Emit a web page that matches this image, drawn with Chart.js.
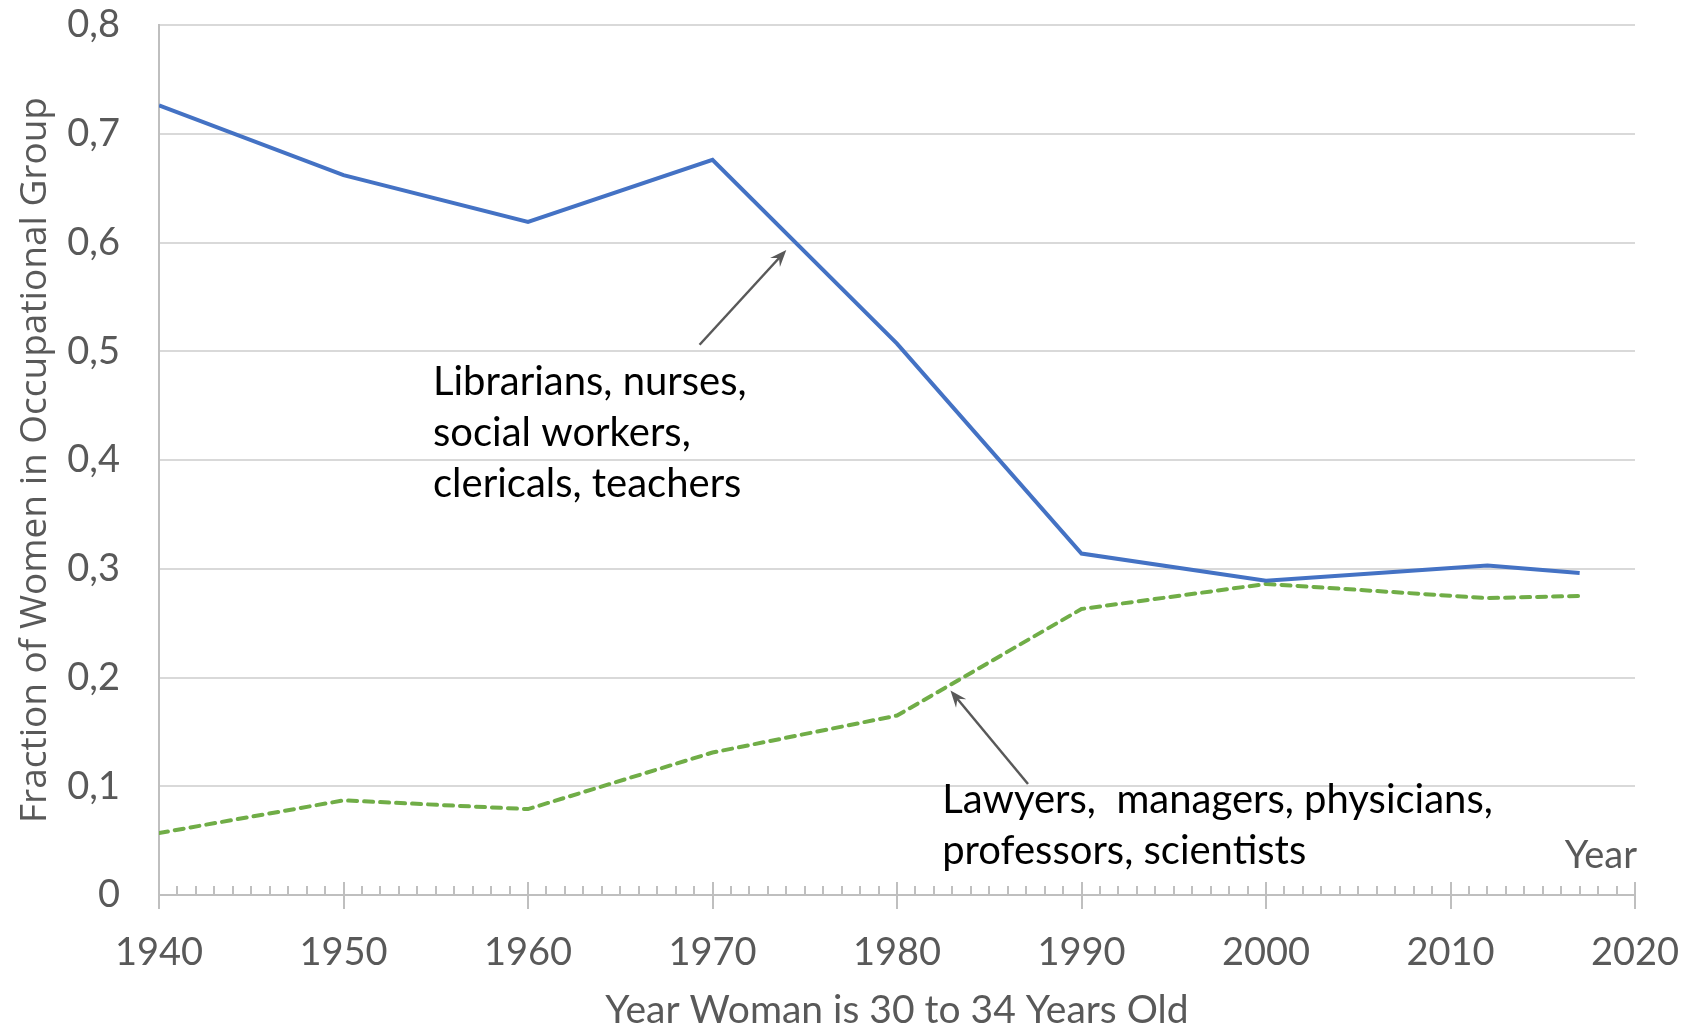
<!DOCTYPE html>
<html>
<head>
    <title>Women in Occupational Groups</title>
    <style>
        body {
            margin: 0;
            padding: 0;
            background-color: #fff;
        }
        #chart {
            display: block;
        }
    </style>
</head>
<body>
    <canvas id="chart" width="1684" height="1031"></canvas>

    <script src="https://cdn.jsdelivr.net/npm/chart.js"></script>
    <script>
        // data
        const years = [1940, 1950, 1960, 1970, 1980, 1990, 2000, 2012, 2017];
        const traditionalJobs = [0.726, 0.662, 0.619, 0.676, 0.507, 0.314, 0.289, 0.303, 0.296];
        const professionalJobs = [0.057, 0.087, 0.079, 0.131, 0.165, 0.263, 0.286, 0.273, 0.275];
        const yTicks = [0, 0.1, 0.2, 0.3, 0.4, 0.5, 0.6, 0.7, 0.8];

        const labelTraditional = ['Librarians, nurses,', 'social workers,', 'clericals, teachers'];
        const labelProfessional = ['Lawyers,  managers, physicians,', 'professors, scientists'];

        const gridGray = '#d9d9d9';
        const axisGray = '#bfbfbf';
        const textGray = '#595959';

        function toPoints(xs, ys) {
            return xs.map((x, i) => ({ x: x, y: ys[i] }));
        }

        // tick marks on the x axis: majors cross the line, minors sit on top
        const axisTicks = {
            id: 'axisTicks',
            afterDraw(chart) {
                const ctx = chart.ctx;
                const x = chart.scales.x;
                const y0 = chart.scales.y.getPixelForValue(0);
                ctx.save();
                ctx.strokeStyle = axisGray;
                ctx.lineWidth = 2;
                for (let yr = 1940; yr <= 2020; yr++) {
                    const px = Math.round(x.getPixelForValue(yr));
                    ctx.beginPath();
                    if (yr % 10 === 0) {
                        ctx.moveTo(px, y0 - 13);
                        ctx.lineTo(px, y0 + 14);
                    } else {
                        ctx.moveTo(px, y0 - 9);
                        ctx.lineTo(px, y0);
                    }
                    ctx.stroke();
                }
                ctx.restore();
            }
        };

        function arrow(ctx, x1, y1, x2, y2) {
            const ang = Math.atan2(y2 - y1, x2 - x1);
            const head = 18;
            ctx.beginPath();
            ctx.moveTo(x1, y1);
            ctx.lineTo(x2 - Math.cos(ang) * 10, y2 - Math.sin(ang) * 10);
            ctx.stroke();
            ctx.beginPath();
            ctx.moveTo(x2, y2);
            ctx.lineTo(x2 - head * Math.cos(ang - 0.38), y2 - head * Math.sin(ang - 0.38));
            ctx.lineTo(x2 - head * 0.6 * Math.cos(ang), y2 - head * 0.6 * Math.sin(ang));
            ctx.lineTo(x2 - head * Math.cos(ang + 0.38), y2 - head * Math.sin(ang + 0.38));
            ctx.closePath();
            ctx.fill();
        }

        // callout texts and arrows, placed in data units
        const callouts = {
            id: 'callouts',
            afterDatasetsDraw(chart) {
                const ctx = chart.ctx;
                const sx = chart.scales.x;
                const sy = chart.scales.y;
                const X = v => sx.getPixelForValue(v);
                const Y = v => sy.getPixelForValue(v);

                ctx.save();
                ctx.fillStyle = '#000';
                ctx.font = '40px Lato';
                ctx.textAlign = 'left';
                ctx.textBaseline = 'middle';
                labelTraditional.forEach((t, i) => ctx.fillText(t, X(1954.85), Y(0.472) + i * 51));
                labelProfessional.forEach((t, i) => ctx.fillText(t, X(1982.45), Y(0.087) + i * 51));

                ctx.fillStyle = textGray;
                ctx.font = '38px Lato';
                ctx.textAlign = 'right';
                ctx.fillText('Year', X(2020) + 2, Y(0.036));

                ctx.strokeStyle = textGray;
                ctx.lineWidth = 2.5;
                arrow(ctx, X(1969.3), Y(0.506), X(1974.0), Y(0.593));
                arrow(ctx, X(1987.1), Y(0.102), X(1982.9), Y(0.188));
                ctx.restore();
            }
        };

        new Chart(document.getElementById('chart'), {
            type: 'line',
            data: {
                datasets: [{
                    label: 'Librarians, nurses, social workers, clericals, teachers',
                    data: toPoints(years, traditionalJobs),
                    borderColor: '#4472c4',
                    borderWidth: 4,
                    pointRadius: 0,
                    tension: 0,
                    fill: false
                }, {
                    label: 'Lawyers, managers, physicians, professors, scientists',
                    data: toPoints(years, professionalJobs),
                    borderColor: '#70ad47',
                    borderWidth: 4,
                    borderDash: [9, 7],
                    borderCapStyle: 'round',
                    pointRadius: 0,
                    tension: 0,
                    fill: false
                }]
            },
            options: {
                responsive: false,
                animation: false,
                layout: { padding: { top: 25, right: 49, left: 0, bottom: 0 } },
                plugins: {
                    legend: { display: false },
                    tooltip: { enabled: false }
                },
                scales: {
                    x: {
                        type: 'linear',
                        min: 1940,
                        max: 2020,
                        afterFit(scale) {
                            scale.height = 136;
                            scale.paddingLeft = 0;
                            scale.paddingRight = 0;
                        },
                        ticks: {
                            stepSize: 10,
                            padding: 27,
                            color: textGray,
                            font: { family: 'Lato', size: 38 },
                            callback: v => String(v)
                        },
                        grid: { display: false },
                        border: { display: true, color: axisGray, width: 2 },
                        title: {
                            display: true,
                            text: 'Year Woman is 30 to 34 Years Old',
                            color: textGray,
                            font: { family: 'Lato', size: 39, lineHeight: 1.05 },
                            padding: { top: 0, bottom: 0 }
                        }
                    },
                    y: {
                        min: 0,
                        max: 0.8,
                        afterFit(scale) {
                            scale.width = 159;
                            scale.paddingTop = 0;
                            scale.paddingBottom = 0;
                        },
                        afterBuildTicks(scale) {
                            scale.ticks = yTicks.map(v => ({ value: v }));
                        },
                        ticks: {
                            padding: 39,
                            color: textGray,
                            font: { family: 'Lato', size: 38 },
                            callback: v => v === 0 ? '0' : v.toFixed(1).replace('.', ',')
                        },
                        grid: {
                            color: ctx => ctx.tick && ctx.tick.value === 0 ? axisGray : gridGray,
                            lineWidth: 2,
                            drawTicks: false
                        },
                        border: { display: true, color: axisGray, width: 2 },
                        title: {
                            display: true,
                            text: 'Fraction of Women in Occupational Group',
                            color: textGray,
                            font: { family: 'Open Sans', size: 37 },
                            padding: { top: 13, bottom: 0 }
                        }
                    }
                }
            },
            plugins: [axisTicks, callouts]
        });
    </script>
</body>
</html>
